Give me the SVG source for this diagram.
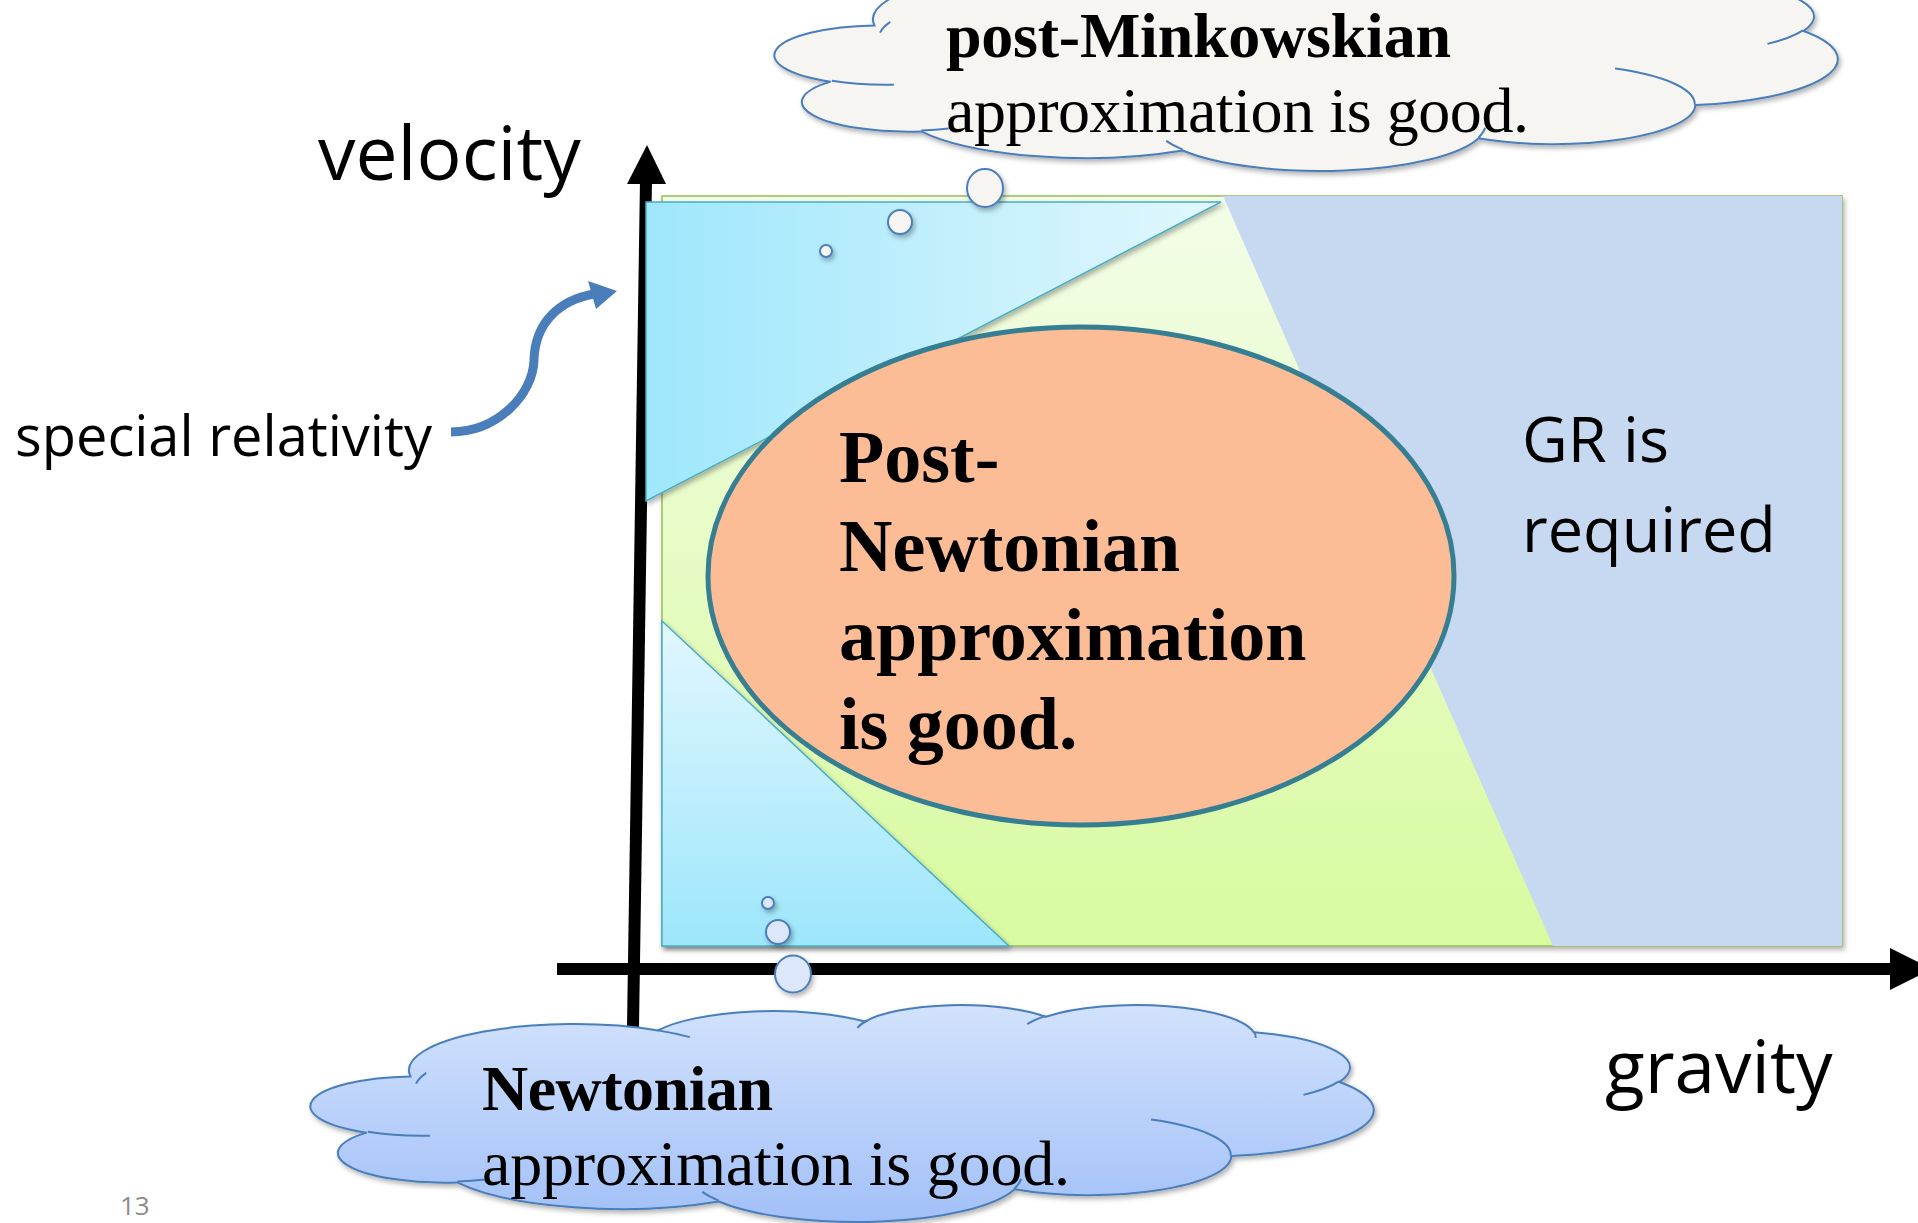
<svg xmlns="http://www.w3.org/2000/svg" width="1918" height="1223" viewBox="0 0 1918 1223">
<defs>
<style>
.sans{font-family:"Open Sans","Liberation Sans",sans-serif;fill:#000}
.serif{font-family:"Liberation Serif","Times New Roman",serif;fill:#000}
.b{font-weight:bold}
.axis{stroke:#000;stroke-width:12;fill:none}
.bub{stroke:#4a7ebb;stroke-width:2}
.tri{stroke:#4bacc6;stroke-width:1.5}
</style>
<linearGradient id="gGreen" x1="0" y1="0" x2="0" y2="1"><stop offset="0" stop-color="#f3fde8"/><stop offset="1" stop-color="#d8fa9f"/></linearGradient>
<linearGradient id="gCyanH" x1="0" y1="0" x2="1" y2="0"><stop offset="0" stop-color="#9fe7fc"/><stop offset="1" stop-color="#e2f7fd"/></linearGradient>
<linearGradient id="gCyanV" x1="0" y1="0" x2="0" y2="1"><stop offset="0" stop-color="#e2f7fe"/><stop offset="1" stop-color="#9de6fb"/></linearGradient>
<linearGradient id="gCloudB" x1="0" y1="0" x2="0" y2="1"><stop offset="0" stop-color="#d2e2fc"/><stop offset="1" stop-color="#a2c0f8"/></linearGradient>
<filter id="sh" x="-5%" y="-5%" width="110%" height="125%"><feDropShadow dx="2" dy="3" stdDeviation="2.5" flood-color="#000" flood-opacity="0.3"/></filter>
<path id="cloud" vector-effect="non-scaling-stroke" stroke="#4a7ebb" stroke-width="2" d="M3900,14370 A6753,9190 0 0 1 14005,5203 A5333,7267 0 0 1 22456,3433 A4365,5945 0 0 1 29833,2481 A4857,6595 0 0 1 38319,5576 A5333,7273 0 0 1 41819,15460 A6775,9220 0 0 1 37404,30202 A5785,7867 0 0 1 28556,36812 A6752,9215 0 0 1 16482,39266 A7720,10543 0 0 1 5806,35471 A4360,5918 0 0 1 2113,25551 A4345,5945 0 0 1 3900,14370 Z"/>
<path id="crease" vector-effect="non-scaling-stroke" fill="none" stroke="#4a7ebb" stroke-width="2" d="M4693,26177 A4345,5945 0 0 1 2160,25380 M6928,34899 A4360,5918 0 0 1 5820,35281 M16478,39090 A6752,9215 0 0 1 15809,37348 M28827,34751 A6752,9215 0 0 1 28561,36660 M34129,22954 A5785,7867 0 0 1 37381,30090 M41798,15354 A5333,7273 0 0 1 40350,18031 M38324,5426 A4857,6595 0 0 1 38400,6689 M29078,3952 A4857,6595 0 0 1 29820,2339 M22141,4720 A4365,5945 0 0 1 22540,3225 M14000,5192 A6753,9190 0 0 1 15301,6541 M4127,15789 A6753,9190 0 0 1 4545,13646"/>
</defs>

<g id="axes">
<line class="axis" x1="633" y1="1027" x2="646" y2="180"/>
<polygon points="647,145 666,184 627,184" fill="#000"/>
<line class="axis" x1="557" y1="969" x2="1892" y2="969"/>
<polygon points="1890,948 1932,969 1890,990" fill="#000"/>
</g>

<g id="region-plot">
<rect x="662" y="196" width="1180" height="750" fill="url(#gGreen)" stroke="#9bbb59" stroke-width="1.5" filter="url(#sh)"/>
<polygon id="gr-region" points="1223,196 1842,196 1842,946 1553,946" fill="#c6d9f1"/>
<polygon id="sr-region" class="tri" points="646,202 1221,202 646,501" fill="url(#gCyanH)" filter="url(#sh)"/>
<polygon id="newton-region" class="tri" points="662,621 662,946 1009,946" fill="url(#gCyanV)" filter="url(#sh)"/>
</g>

<g id="post-newtonian">
<ellipse cx="1081" cy="576" rx="373" ry="249" fill="#fbbc96" stroke="#367f92" stroke-width="5"/>
<text class="serif b" font-size="74" x="839" y="482">Post-</text>
<text class="serif b" font-size="74" x="839" y="571">Newtonian</text>
<text class="serif b" font-size="74" x="839" y="660">approximation</text>
<text class="serif b" font-size="74" x="839" y="749">is good.</text>
</g>

<g id="gr-label">
<text class="sans" font-size="63" x="1522" y="462">GR is</text>
<text class="sans" font-size="63" x="1522" y="552">required</text>
</g>

<g id="axis-labels">
<text class="sans" font-size="75" x="318" y="180">velocity</text>
<text class="sans" font-size="73" x="1605" y="1093">gravity</text>
</g>

<g id="special-relativity">
<text class="sans" font-size="56" x="15" y="456">special relativity</text>
</g>

<g id="connectors">
<path d="M451,432 C497,432 533,395 534,360 C535,322 560,300 594,294" fill="none" stroke="#4a7ebb" stroke-width="9"/>
<polygon points="617,291 588,281 596,309" fill="#4a7ebb"/>
</g>

<g id="cloud-pm" filter="url(#sh)">
<g transform="translate(778.9,-46.7) scale(0.0245,0.005022)">
<use href="#cloud" fill="#f6f5f2"/>
<use href="#crease"/>
</g>
<text class="serif b" font-size="64" x="946" y="57" textLength="505">post-Minkowskian</text>
<text class="serif" font-size="64" x="946" y="132" textLength="583">approximation is good.</text>
<ellipse class="bub" cx="985" cy="188" rx="18" ry="19" fill="#f6f5f2"/>
<circle class="bub" cx="900" cy="222" r="12" fill="#f6f5f2"/>
<circle class="bub" cx="826" cy="251" r="6" fill="#f6f5f2"/>
</g>

<g id="cloud-newton" filter="url(#sh)">
<g transform="translate(314.9,1004.3) scale(0.0245,0.005022)">
<use href="#cloud" fill="url(#gCloudB)"/>
<use href="#crease"/>
</g>
<text class="serif b" font-size="64" x="482" y="1110" textLength="291">Newtonian</text>
<text class="serif" font-size="64" x="482" y="1185" textLength="588">approximation is good.</text>
<ellipse class="bub" cx="793" cy="974" rx="18" ry="18.5" fill="#dce7fb"/>
<circle class="bub" cx="778" cy="932" r="12" fill="#dce7fb"/>
<circle class="bub" cx="768" cy="903" r="6" fill="#dce7fb"/>
</g>

<text class="sans" font-size="26" x="120" y="1215" style="fill:#8c8c8c">13</text>
</svg>
